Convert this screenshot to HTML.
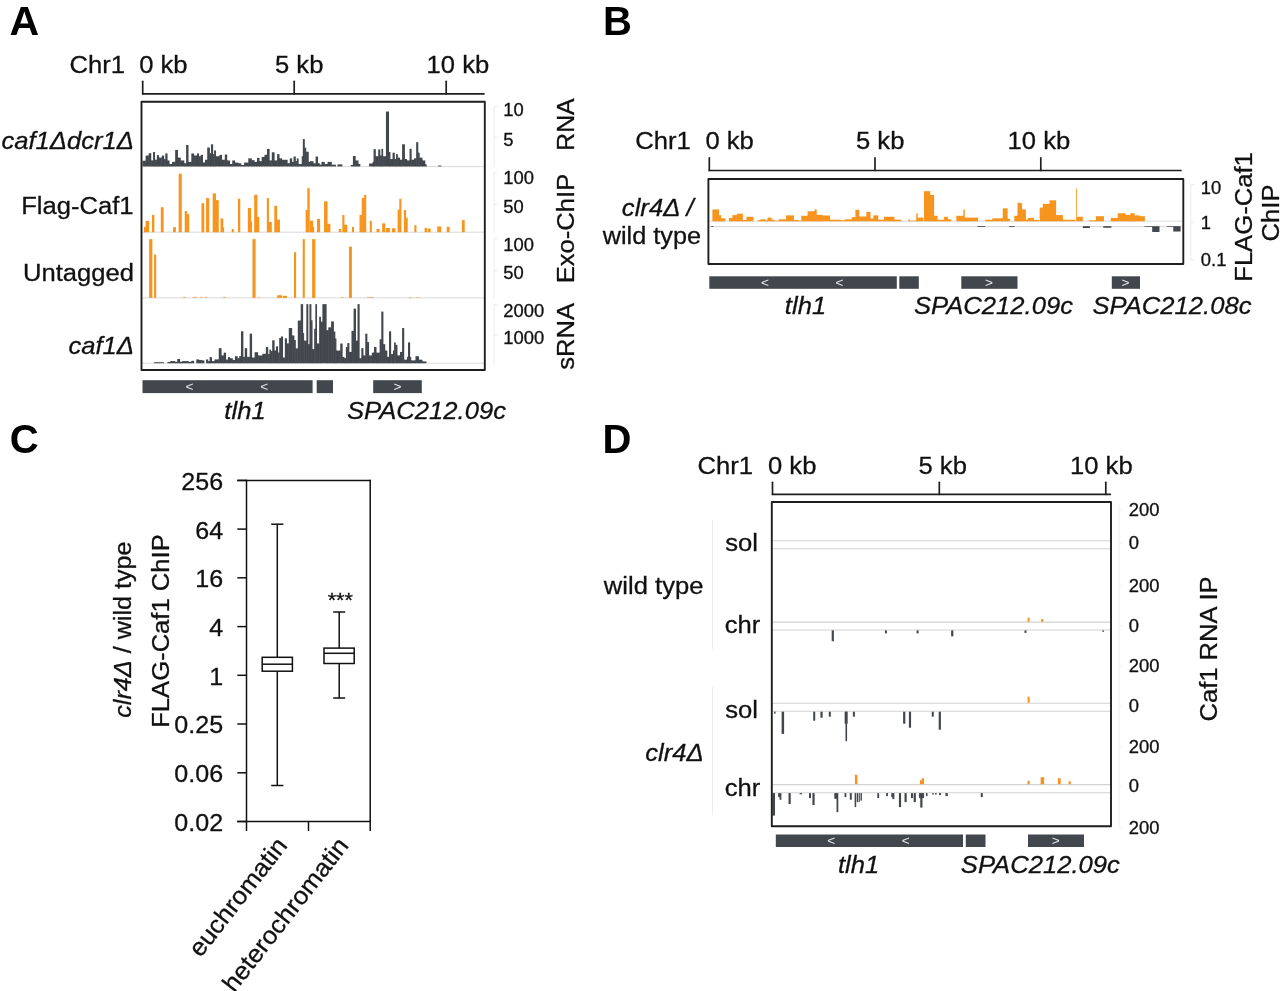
<!DOCTYPE html>
<html lang="en">
<head>
<meta charset="utf-8">
<title>Figure: Caf1 RNA, ChIP and sRNA tracks</title>
<style>
html,body{margin:0;padding:0;background:#fff;}
body{width:1280px;height:991px;overflow:hidden;font-family:'Liberation Sans', Arial, Helvetica, sans-serif;}
svg{display:block;}
svg text{font-family:'Liberation Sans', Arial, Helvetica, sans-serif;}
</style>
</head>
<body>
<svg width="1280" height="991" viewBox="0 0 1280 991">
<rect x="0" y="0" width="1280" height="991" fill="#ffffff"/>
<g id="panelA">
<text transform="translate(9.60 34.60) scale(1.015 1)" font-size="40.5" font-weight="bold" fill="#000">A</text>
<text transform="translate(69.50 73.20) scale(1.033 1)" font-size="24.8" stroke="#111" stroke-width="0.3" fill="#111">Chr1</text>
<text transform="translate(139.20 73.20) scale(1.033 1)" font-size="24.8" stroke="#111" stroke-width="0.3" fill="#111">0 kb</text>
<text transform="translate(275.00 73.20) scale(1.033 1)" font-size="24.8" stroke="#111" stroke-width="0.3" fill="#111">5 kb</text>
<text transform="translate(426.60 73.20) scale(1.033 1)" font-size="24.8" stroke="#111" stroke-width="0.3" fill="#111">10 kb</text>
<line x1="142.70" y1="93.80" x2="484.00" y2="93.80" stroke="#1f1f1f" stroke-width="1.7" stroke-linecap="round"/>
<line x1="142.70" y1="81.30" x2="142.70" y2="93.80" stroke="#1f1f1f" stroke-width="1.7" stroke-linecap="round"/>
<line x1="294.20" y1="81.30" x2="294.20" y2="93.80" stroke="#1f1f1f" stroke-width="1.7" stroke-linecap="round"/>
<line x1="446.20" y1="81.30" x2="446.20" y2="93.80" stroke="#1f1f1f" stroke-width="1.7" stroke-linecap="round"/>
<line x1="142.50" y1="166.60" x2="484.50" y2="166.60" stroke="#d9d9d9" stroke-width="1" stroke-linecap="butt"/>
<line x1="142.50" y1="232.20" x2="484.50" y2="232.20" stroke="#d9d9d9" stroke-width="1" stroke-linecap="butt"/>
<line x1="142.50" y1="297.90" x2="484.50" y2="297.90" stroke="#d9d9d9" stroke-width="1" stroke-linecap="butt"/>
<line x1="142.50" y1="363.20" x2="484.50" y2="363.20" stroke="#d9d9d9" stroke-width="1" stroke-linecap="butt"/>
<g fill="#42474d"><rect x="142.53" y="160.75" width="3.09" height="5.62"/><rect x="145.12" y="160.75" width="1" height="5.62"/><rect x="145.62" y="155.55" width="3.09" height="10.83"/><rect x="148.22" y="155.55" width="1" height="10.83"/><rect x="148.72" y="153.16" width="2.53" height="13.22"/><rect x="150.75" y="160.47" width="1" height="5.91"/><rect x="151.25" y="160.47" width="1.83" height="5.91"/><rect x="152.58" y="160.47" width="1" height="5.91"/><rect x="153.08" y="152.03" width="1.97" height="14.34"/><rect x="154.55" y="159.77" width="1" height="6.61"/><rect x="155.05" y="159.77" width="1.83" height="6.61"/><rect x="156.38" y="159.77" width="1" height="6.61"/><rect x="156.88" y="155.12" width="2.11" height="11.25"/><rect x="158.48" y="157.66" width="1" height="8.72"/><rect x="158.98" y="157.66" width="2.81" height="8.72"/><rect x="161.30" y="157.66" width="1" height="8.72"/><rect x="161.80" y="155.55" width="2.39" height="10.83"/><rect x="163.69" y="159.06" width="1" height="7.31"/><rect x="164.19" y="159.06" width="1.12" height="7.31"/><rect x="164.81" y="159.06" width="1" height="7.31"/><rect x="165.31" y="153.44" width="2.25" height="12.94"/><rect x="167.06" y="160.47" width="1" height="5.91"/><rect x="167.56" y="160.47" width="1.97" height="5.91"/><rect x="169.03" y="163.98" width="1" height="2.39"/><rect x="169.53" y="163.98" width="2.53" height="2.39"/><rect x="171.56" y="163.98" width="1" height="2.39"/><rect x="172.06" y="161.88" width="3.09" height="4.50"/><rect x="174.66" y="161.88" width="1" height="4.50"/><rect x="175.16" y="149.92" width="2.81" height="16.45"/><rect x="177.47" y="157.66" width="1" height="8.72"/><rect x="177.97" y="157.66" width="2.81" height="8.72"/><rect x="180.28" y="160.47" width="1" height="5.91"/><rect x="180.78" y="160.47" width="3.52" height="5.91"/><rect x="183.80" y="163.28" width="1" height="3.09"/><rect x="184.30" y="163.28" width="1.83" height="3.09"/><rect x="185.62" y="163.28" width="1" height="3.09"/><rect x="186.12" y="145.00" width="2.39" height="21.38"/><rect x="188.02" y="161.88" width="1" height="4.50"/><rect x="188.52" y="161.88" width="2.81" height="4.50"/><rect x="190.83" y="161.88" width="1" height="4.50"/><rect x="191.33" y="153.44" width="2.81" height="12.94"/><rect x="193.64" y="155.55" width="1" height="10.83"/><rect x="194.14" y="155.55" width="2.81" height="10.83"/><rect x="196.45" y="155.55" width="1" height="10.83"/><rect x="196.95" y="153.44" width="2.11" height="12.94"/><rect x="198.56" y="156.25" width="1" height="10.12"/><rect x="199.06" y="156.25" width="1.69" height="10.12"/><rect x="200.25" y="156.25" width="1" height="10.12"/><rect x="200.75" y="154.84" width="2.25" height="11.53"/><rect x="202.50" y="162.58" width="1" height="3.80"/><rect x="203.00" y="162.58" width="1.97" height="3.80"/><rect x="204.47" y="162.58" width="1" height="3.80"/><rect x="204.97" y="159.77" width="2.25" height="6.61"/><rect x="206.72" y="159.77" width="1" height="6.61"/><rect x="207.22" y="147.53" width="2.67" height="18.84"/><rect x="209.39" y="153.44" width="1" height="12.94"/><rect x="209.89" y="153.44" width="1.12" height="12.94"/><rect x="210.52" y="153.44" width="1" height="12.94"/><rect x="211.02" y="144.30" width="2.11" height="22.08"/><rect x="212.62" y="154.14" width="1" height="12.23"/><rect x="213.12" y="154.14" width="0.98" height="12.23"/><rect x="213.61" y="154.14" width="1" height="12.23"/><rect x="214.11" y="150.34" width="1.83" height="16.03"/><rect x="215.44" y="156.25" width="1" height="10.12"/><rect x="215.94" y="156.25" width="3.52" height="10.12"/><rect x="218.95" y="156.25" width="1" height="10.12"/><rect x="219.45" y="154.84" width="2.53" height="11.53"/><rect x="221.48" y="159.77" width="1" height="6.61"/><rect x="221.98" y="159.77" width="2.81" height="6.61"/><rect x="224.30" y="159.77" width="1" height="6.61"/><rect x="224.80" y="154.56" width="2.39" height="11.81"/><rect x="226.69" y="160.47" width="1" height="5.91"/><rect x="227.19" y="160.47" width="2.81" height="5.91"/><rect x="229.50" y="163.98" width="1" height="2.39"/><rect x="230.00" y="163.98" width="2.25" height="2.39"/><rect x="231.75" y="163.98" width="1" height="2.39"/><rect x="232.25" y="160.47" width="2.81" height="5.91"/><rect x="234.56" y="162.58" width="1" height="3.80"/><rect x="235.06" y="162.58" width="3.38" height="3.80"/><rect x="237.94" y="163.28" width="1" height="3.09"/><rect x="238.44" y="163.28" width="2.81" height="3.09"/><rect x="240.75" y="164.97" width="1" height="1.41"/><rect x="241.25" y="164.97" width="2.81" height="1.41"/><rect x="243.56" y="164.97" width="1" height="1.41"/><rect x="244.06" y="162.58" width="4.22" height="3.80"/><rect x="247.78" y="162.58" width="1" height="3.80"/><rect x="248.28" y="158.36" width="3.52" height="8.02"/><rect x="251.30" y="160.19" width="1" height="6.19"/><rect x="251.80" y="160.19" width="2.81" height="6.19"/><rect x="254.11" y="161.88" width="1" height="4.50"/><rect x="254.61" y="161.88" width="2.39" height="4.50"/><rect x="256.50" y="161.88" width="1" height="4.50"/><rect x="257.00" y="157.94" width="2.53" height="8.44"/><rect x="259.03" y="161.17" width="1" height="5.20"/><rect x="259.53" y="161.17" width="2.11" height="5.20"/><rect x="261.14" y="161.17" width="1" height="5.20"/><rect x="261.64" y="156.95" width="2.81" height="9.42"/><rect x="263.95" y="156.95" width="1" height="9.42"/><rect x="264.45" y="154.84" width="2.53" height="11.53"/><rect x="266.48" y="154.84" width="1" height="11.53"/><rect x="266.98" y="148.94" width="2.67" height="17.44"/><rect x="269.16" y="160.47" width="1" height="5.91"/><rect x="269.66" y="160.47" width="2.11" height="5.91"/><rect x="271.27" y="160.47" width="1" height="5.91"/><rect x="271.77" y="152.31" width="2.81" height="14.06"/><rect x="274.08" y="160.47" width="1" height="5.91"/><rect x="274.58" y="160.47" width="2.53" height="5.91"/><rect x="276.61" y="160.47" width="1" height="5.91"/><rect x="277.11" y="154.14" width="2.39" height="12.23"/><rect x="279.00" y="158.36" width="1" height="8.02"/><rect x="279.50" y="158.36" width="2.53" height="8.02"/><rect x="281.53" y="159.77" width="1" height="6.61"/><rect x="282.03" y="159.77" width="5.62" height="6.61"/><rect x="287.16" y="163.28" width="1" height="3.09"/><rect x="287.66" y="163.28" width="2.11" height="3.09"/><rect x="289.27" y="163.28" width="1" height="3.09"/><rect x="289.77" y="158.36" width="2.39" height="8.02"/><rect x="291.66" y="161.88" width="1" height="4.50"/><rect x="292.16" y="161.88" width="1.41" height="4.50"/><rect x="293.06" y="161.88" width="1" height="4.50"/><rect x="293.56" y="156.53" width="2.25" height="9.84"/><rect x="295.31" y="161.17" width="1" height="5.20"/><rect x="295.81" y="161.17" width="0.98" height="5.20"/><rect x="296.30" y="161.17" width="1" height="5.20"/><rect x="296.80" y="158.36" width="1.83" height="8.02"/><rect x="298.12" y="163.98" width="1" height="2.39"/><rect x="298.62" y="163.98" width="3.09" height="2.39"/><rect x="301.22" y="163.98" width="1" height="2.39"/><rect x="301.72" y="156.25" width="1.12" height="10.12"/><rect x="302.34" y="156.25" width="1" height="10.12"/><rect x="302.84" y="139.09" width="1.97" height="27.28"/><rect x="304.31" y="147.81" width="1" height="18.56"/><rect x="304.81" y="147.81" width="1.41" height="18.56"/><rect x="305.72" y="151.75" width="1" height="14.62"/><rect x="306.22" y="151.75" width="2.53" height="14.62"/><rect x="308.25" y="161.88" width="1" height="4.50"/><rect x="308.75" y="161.88" width="1.27" height="4.50"/></g>
<g fill="#42474d"><rect x="310.00" y="161.17" width="3.52" height="5.20"/><rect x="313.02" y="163.28" width="1" height="3.09"/><rect x="313.52" y="163.28" width="2.11" height="3.09"/><rect x="315.12" y="163.28" width="1" height="3.09"/><rect x="315.62" y="156.53" width="2.39" height="9.84"/><rect x="317.52" y="163.28" width="1" height="3.09"/><rect x="318.02" y="163.28" width="1.83" height="3.09"/><rect x="319.34" y="164.69" width="1" height="1.69"/><rect x="319.84" y="164.69" width="1.69" height="1.69"/><rect x="321.03" y="164.69" width="1" height="1.69"/><rect x="321.53" y="161.88" width="3.23" height="4.50"/><rect x="324.27" y="163.98" width="1" height="2.39"/><rect x="324.77" y="163.98" width="2.81" height="2.39"/><rect x="327.08" y="163.98" width="1" height="2.39"/><rect x="327.58" y="161.88" width="4.22" height="4.50"/><rect x="331.30" y="164.69" width="1" height="1.69"/><rect x="331.80" y="164.69" width="4.22" height="1.69"/><rect x="337.42" y="164.41" width="4.92" height="1.97"/><rect x="350.78" y="164.97" width="2.11" height="1.41"/><rect x="352.39" y="164.97" width="1" height="1.41"/><rect x="352.89" y="155.97" width="2.81" height="10.41"/><rect x="355.20" y="160.47" width="1" height="5.91"/><rect x="355.70" y="160.47" width="2.81" height="5.91"/><rect x="358.02" y="163.98" width="1" height="2.39"/><rect x="358.52" y="163.98" width="1.83" height="2.39"/><rect x="369.06" y="163.56" width="3.52" height="2.81"/><rect x="372.08" y="163.56" width="1" height="2.81"/><rect x="372.58" y="161.88" width="0.98" height="4.50"/><rect x="373.06" y="161.88" width="1" height="4.50"/><rect x="373.56" y="149.22" width="2.25" height="17.16"/><rect x="375.31" y="156.25" width="1" height="10.12"/><rect x="375.81" y="156.25" width="2.39" height="10.12"/><rect x="377.70" y="156.25" width="1" height="10.12"/><rect x="378.20" y="149.50" width="2.11" height="16.88"/><rect x="379.81" y="155.55" width="1" height="10.83"/><rect x="380.31" y="155.55" width="1.12" height="10.83"/><rect x="380.94" y="155.55" width="1" height="10.83"/><rect x="381.44" y="148.80" width="1.69" height="17.58"/><rect x="382.62" y="156.25" width="1" height="10.12"/><rect x="383.12" y="156.25" width="2.81" height="10.12"/><rect x="385.44" y="156.25" width="1" height="10.12"/><rect x="385.94" y="111.53" width="3.09" height="54.84"/><rect x="388.53" y="152.03" width="1" height="14.34"/><rect x="389.03" y="152.03" width="1.41" height="14.34"/><rect x="389.94" y="159.06" width="1" height="7.31"/><rect x="390.44" y="159.06" width="2.11" height="7.31"/><rect x="392.05" y="159.06" width="1" height="7.31"/><rect x="392.55" y="152.73" width="2.25" height="13.64"/><rect x="394.30" y="159.06" width="1" height="7.31"/><rect x="394.80" y="159.06" width="1.27" height="7.31"/><rect x="395.56" y="159.06" width="1" height="7.31"/><rect x="396.06" y="154.14" width="1.83" height="12.23"/><rect x="397.39" y="157.66" width="1" height="8.72"/><rect x="397.89" y="157.66" width="2.11" height="8.72"/><rect x="399.50" y="159.77" width="1" height="6.61"/><rect x="400.00" y="159.77" width="2.11" height="6.61"/><rect x="401.61" y="159.77" width="1" height="6.61"/><rect x="402.11" y="144.30" width="2.81" height="22.08"/><rect x="404.42" y="159.06" width="1" height="7.31"/><rect x="404.92" y="159.06" width="2.11" height="7.31"/><rect x="406.53" y="160.47" width="1" height="5.91"/><rect x="407.03" y="160.47" width="2.53" height="5.91"/><rect x="409.06" y="160.47" width="1" height="5.91"/><rect x="409.56" y="148.80" width="2.11" height="17.58"/><rect x="411.17" y="159.77" width="1" height="6.61"/><rect x="411.67" y="159.77" width="2.39" height="6.61"/><rect x="413.56" y="159.77" width="1" height="6.61"/><rect x="414.06" y="158.36" width="2.11" height="8.02"/><rect x="415.67" y="158.36" width="1" height="8.02"/><rect x="416.17" y="142.19" width="2.11" height="24.19"/><rect x="417.78" y="152.73" width="1" height="13.64"/><rect x="418.28" y="152.73" width="1.41" height="13.64"/><rect x="419.19" y="157.66" width="1" height="8.72"/><rect x="419.69" y="157.66" width="2.81" height="8.72"/><rect x="422.00" y="160.47" width="1" height="5.91"/><rect x="422.50" y="160.47" width="2.81" height="5.91"/><rect x="424.81" y="164.41" width="1" height="1.97"/><rect x="425.31" y="164.41" width="1.41" height="1.97"/><rect x="437.97" y="165.53" width="3.52" height="0.84"/></g>
<g fill="#f7941d"><rect x="143.94" y="226.88" width="1.69" height="5.34"/><rect x="145.12" y="226.88" width="1" height="5.34"/><rect x="145.62" y="220.97" width="3.52" height="11.25"/><rect x="151.95" y="214.92" width="2.39" height="17.30"/><rect x="160.81" y="207.19" width="2.81" height="25.03"/><rect x="173.05" y="227.16" width="2.81" height="5.06"/><rect x="178.67" y="173.72" width="3.09" height="58.50"/><rect x="184.72" y="211.12" width="2.39" height="21.09"/><rect x="186.61" y="214.22" width="1" height="18.00"/><rect x="187.11" y="214.22" width="2.11" height="18.00"/><rect x="201.45" y="203.25" width="2.81" height="28.97"/><rect x="206.09" y="198.05" width="3.09" height="34.17"/><rect x="212.70" y="193.41" width="3.23" height="38.81"/><rect x="215.44" y="200.16" width="1" height="32.06"/><rect x="215.94" y="200.16" width="2.81" height="32.06"/><rect x="220.58" y="218.44" width="2.67" height="13.78"/><rect x="222.75" y="227.58" width="1" height="4.64"/><rect x="223.25" y="227.58" width="0.84" height="4.64"/><rect x="231.69" y="228.98" width="2.11" height="3.23"/><rect x="238.02" y="198.75" width="2.25" height="33.47"/><rect x="247.86" y="207.89" width="3.23" height="24.33"/><rect x="250.59" y="221.25" width="1" height="10.97"/><rect x="251.09" y="221.25" width="0.98" height="10.97"/><rect x="254.19" y="194.81" width="3.23" height="37.41"/><rect x="256.92" y="217.03" width="1" height="15.19"/><rect x="257.42" y="217.03" width="1.83" height="15.19"/><rect x="266.84" y="198.05" width="2.11" height="34.17"/><rect x="268.45" y="221.95" width="1" height="10.27"/><rect x="268.95" y="221.95" width="2.81" height="10.27"/><rect x="274.30" y="205.78" width="2.81" height="26.44"/><rect x="276.61" y="219.56" width="1" height="12.66"/><rect x="277.11" y="219.56" width="2.81" height="12.66"/><rect x="305.66" y="210.00" width="1.69" height="22.22"/><rect x="306.84" y="210.00" width="1" height="22.22"/><rect x="307.34" y="188.20" width="2.39" height="44.02"/></g>
<g fill="#f7941d"><rect x="310.00" y="220.55" width="3.09" height="11.67"/><rect x="312.59" y="226.88" width="1" height="5.34"/><rect x="313.09" y="226.88" width="1.12" height="5.34"/><rect x="317.03" y="218.86" width="3.09" height="13.36"/><rect x="324.06" y="201.28" width="3.52" height="30.94"/><rect x="327.08" y="223.78" width="1" height="8.44"/><rect x="327.58" y="223.78" width="2.81" height="8.44"/><rect x="338.83" y="228.98" width="2.39" height="3.23"/><rect x="342.34" y="214.92" width="2.11" height="17.30"/><rect x="343.95" y="224.77" width="1" height="7.45"/><rect x="344.45" y="224.77" width="2.81" height="7.45"/><rect x="351.91" y="226.88" width="2.11" height="5.34"/><rect x="359.50" y="214.92" width="2.25" height="17.30"/><rect x="361.25" y="214.92" width="1" height="17.30"/><rect x="361.75" y="198.05" width="2.39" height="34.17"/><rect x="363.64" y="198.05" width="1" height="34.17"/><rect x="364.14" y="194.81" width="2.11" height="37.41"/><rect x="369.77" y="220.83" width="2.11" height="11.39"/><rect x="376.52" y="228.98" width="3.09" height="3.23"/><rect x="382.14" y="223.36" width="3.09" height="8.86"/><rect x="385.94" y="228.00" width="3.94" height="4.22"/><rect x="391.98" y="228.28" width="3.52" height="3.94"/><rect x="397.61" y="209.72" width="1.69" height="22.50"/><rect x="398.80" y="209.72" width="1" height="22.50"/><rect x="399.30" y="198.75" width="2.11" height="33.47"/><rect x="403.94" y="210.00" width="2.11" height="22.22"/><rect x="405.55" y="217.73" width="1" height="14.48"/><rect x="406.05" y="217.73" width="1.69" height="14.48"/><rect x="414.34" y="225.19" width="2.11" height="7.03"/><rect x="424.61" y="227.86" width="2.39" height="4.36"/><rect x="427.70" y="228.56" width="2.95" height="3.66"/><rect x="437.27" y="226.45" width="3.94" height="5.77"/><rect x="446.69" y="226.88" width="2.95" height="5.34"/><rect x="461.88" y="220.12" width="2.81" height="12.09"/></g>
<g fill="#e8b47c"><rect x="182.89" y="296.80" width="2.81" height="1.12"/><rect x="192.73" y="296.80" width="4.22" height="1.12"/><rect x="199.77" y="296.80" width="2.81" height="1.12"/><rect x="204.69" y="296.80" width="2.81" height="1.12"/><rect x="222.97" y="296.80" width="2.81" height="1.12"/><rect x="258.12" y="296.80" width="1.41" height="1.12"/></g>
<g fill="#e8b47c"><rect x="340.94" y="296.94" width="2.81" height="0.98"/><rect x="366.95" y="296.94" width="7.03" height="0.98"/><rect x="409.14" y="296.94" width="2.11" height="0.98"/><rect x="416.88" y="296.94" width="2.11" height="0.98"/></g>
<g fill="#f7941d"><rect x="149.14" y="239.14" width="3.23" height="58.78"/><rect x="154.06" y="254.61" width="2.11" height="43.31"/><rect x="252.50" y="239.14" width="3.09" height="58.78"/><rect x="293.98" y="252.22" width="2.11" height="45.70"/><rect x="302.70" y="239.14" width="2.11" height="58.78"/><rect x="277.11" y="295.25" width="4.92" height="2.67"/><rect x="282.73" y="295.81" width="4.22" height="2.11"/></g>
<g fill="#f7941d"><rect x="312.11" y="239.14" width="3.23" height="58.78"/><rect x="348.95" y="246.59" width="2.95" height="51.33"/></g>
<g fill="#42474d"><rect x="154.06" y="362.22" width="9.84" height="0.98"/><rect x="167.42" y="361.94" width="2.81" height="1.27"/><rect x="169.73" y="361.94" width="1" height="1.27"/><rect x="170.23" y="361.09" width="4.92" height="2.11"/><rect x="174.66" y="361.80" width="1" height="1.41"/><rect x="175.16" y="361.80" width="2.11" height="1.41"/><rect x="176.77" y="361.80" width="1" height="1.41"/><rect x="177.27" y="358.98" width="2.81" height="4.22"/><rect x="179.58" y="361.80" width="1" height="1.41"/><rect x="180.08" y="361.80" width="2.11" height="1.41"/><rect x="181.69" y="361.80" width="1" height="1.41"/><rect x="182.19" y="361.09" width="6.33" height="2.11"/><rect x="188.02" y="361.80" width="1" height="1.41"/><rect x="188.52" y="361.80" width="2.81" height="1.41"/><rect x="190.83" y="361.80" width="1" height="1.41"/><rect x="191.33" y="360.81" width="2.81" height="2.39"/><rect x="196.25" y="359.41" width="2.81" height="3.80"/><rect x="198.56" y="359.97" width="1" height="3.23"/><rect x="199.06" y="359.97" width="2.81" height="3.23"/><rect x="201.38" y="360.39" width="1" height="2.81"/><rect x="201.88" y="360.39" width="2.53" height="2.81"/><rect x="206.09" y="359.41" width="2.11" height="3.80"/><rect x="207.70" y="361.09" width="1" height="2.11"/><rect x="208.20" y="361.09" width="1.41" height="2.11"/><rect x="209.11" y="361.09" width="1" height="2.11"/><rect x="209.61" y="357.16" width="2.39" height="6.05"/><rect x="211.50" y="361.09" width="1" height="2.11"/><rect x="212.00" y="361.09" width="2.53" height="2.11"/><rect x="214.03" y="361.09" width="1" height="2.11"/><rect x="214.53" y="359.41" width="4.22" height="3.80"/><rect x="218.25" y="359.41" width="1" height="3.80"/><rect x="218.75" y="348.16" width="2.81" height="15.05"/><rect x="221.06" y="355.47" width="1" height="7.73"/><rect x="221.56" y="355.47" width="2.11" height="7.73"/><rect x="223.17" y="355.47" width="1" height="7.73"/><rect x="223.67" y="352.66" width="2.39" height="10.55"/><rect x="225.56" y="359.69" width="1" height="3.52"/><rect x="226.06" y="359.69" width="1.83" height="3.52"/><rect x="227.39" y="359.69" width="1" height="3.52"/><rect x="227.89" y="357.16" width="2.11" height="6.05"/><rect x="229.50" y="358.28" width="1" height="4.92"/><rect x="230.00" y="358.28" width="2.81" height="4.92"/><rect x="232.31" y="359.97" width="1" height="3.23"/><rect x="232.81" y="359.97" width="2.11" height="3.23"/><rect x="234.42" y="359.97" width="1" height="3.23"/><rect x="234.92" y="356.17" width="2.81" height="7.03"/><rect x="237.23" y="358.28" width="1" height="4.92"/><rect x="237.73" y="358.28" width="1.41" height="4.92"/><rect x="238.64" y="358.28" width="1" height="4.92"/><rect x="239.14" y="356.17" width="1.83" height="7.03"/><rect x="240.47" y="356.17" width="1" height="7.03"/><rect x="240.97" y="331.28" width="2.39" height="31.92"/><rect x="242.86" y="356.88" width="1" height="6.33"/><rect x="243.36" y="356.88" width="1.41" height="6.33"/><rect x="244.27" y="356.88" width="1" height="6.33"/><rect x="244.77" y="348.16" width="2.39" height="15.05"/><rect x="246.66" y="356.88" width="1" height="6.33"/><rect x="247.16" y="356.88" width="2.53" height="6.33"/><rect x="249.19" y="356.88" width="1" height="6.33"/><rect x="249.69" y="333.67" width="2.39" height="29.53"/><rect x="251.58" y="357.58" width="1" height="5.62"/><rect x="252.08" y="357.58" width="2.53" height="5.62"/><rect x="254.11" y="357.58" width="1" height="5.62"/><rect x="254.61" y="352.23" width="3.52" height="10.97"/><rect x="257.62" y="355.47" width="1" height="7.73"/><rect x="258.12" y="355.47" width="4.22" height="7.73"/><rect x="261.84" y="355.47" width="1" height="7.73"/><rect x="262.34" y="353.78" width="3.52" height="9.42"/><rect x="265.36" y="353.78" width="1" height="9.42"/><rect x="265.86" y="347.03" width="2.39" height="16.17"/><rect x="267.75" y="354.06" width="1" height="9.14"/><rect x="268.25" y="354.06" width="1.12" height="9.14"/><rect x="268.88" y="354.06" width="1" height="9.14"/><rect x="269.38" y="349.56" width="1.69" height="13.64"/><rect x="270.56" y="351.25" width="1" height="11.95"/><rect x="271.06" y="351.25" width="1.12" height="11.95"/><rect x="271.69" y="351.25" width="1" height="11.95"/><rect x="272.19" y="340.28" width="2.39" height="22.92"/><rect x="274.08" y="350.55" width="1" height="12.66"/><rect x="274.58" y="350.55" width="1.41" height="12.66"/><rect x="275.48" y="350.55" width="1" height="12.66"/><rect x="275.98" y="346.33" width="2.11" height="16.88"/><rect x="277.59" y="352.66" width="1" height="10.55"/><rect x="278.09" y="352.66" width="1.12" height="10.55"/><rect x="278.72" y="352.66" width="1" height="10.55"/><rect x="279.22" y="337.89" width="1.83" height="25.31"/><rect x="280.55" y="337.89" width="1" height="25.31"/><rect x="281.05" y="336.48" width="1.97" height="26.72"/><rect x="282.52" y="357.58" width="1" height="5.62"/><rect x="283.02" y="357.58" width="1.83" height="5.62"/><rect x="284.34" y="357.58" width="1" height="5.62"/><rect x="284.84" y="338.31" width="2.11" height="24.89"/><rect x="286.45" y="343.52" width="1" height="19.69"/><rect x="286.95" y="343.52" width="1.83" height="19.69"/><rect x="288.28" y="343.52" width="1" height="19.69"/><rect x="288.78" y="328.05" width="3.38" height="35.16"/><rect x="291.66" y="335.50" width="1" height="27.70"/><rect x="292.16" y="335.50" width="2.25" height="27.70"/><rect x="293.91" y="340.00" width="1" height="23.20"/><rect x="294.41" y="340.00" width="1.41" height="23.20"/><rect x="295.31" y="348.44" width="1" height="14.77"/><rect x="295.81" y="348.44" width="1.97" height="14.77"/><rect x="297.28" y="348.44" width="1" height="14.77"/><rect x="297.78" y="320.59" width="2.95" height="42.61"/><rect x="300.23" y="320.59" width="1" height="42.61"/><rect x="300.73" y="304.14" width="2.39" height="59.06"/><rect x="302.62" y="332.97" width="1" height="30.23"/><rect x="303.12" y="332.97" width="0.98" height="30.23"/><rect x="303.61" y="340.70" width="1" height="22.50"/><rect x="304.11" y="340.70" width="2.25" height="22.50"/><rect x="305.86" y="340.70" width="1" height="22.50"/><rect x="306.36" y="304.14" width="1.97" height="59.06"/><rect x="307.83" y="344.22" width="1" height="18.98"/><rect x="308.33" y="344.22" width="1.12" height="18.98"/><rect x="308.95" y="344.22" width="1" height="18.98"/><rect x="309.45" y="304.14" width="0.56" height="59.06"/></g>
<g fill="#42474d"><rect x="310.00" y="304.14" width="1.41" height="59.06"/><rect x="310.91" y="320.31" width="1" height="42.89"/><rect x="311.41" y="320.31" width="1.12" height="42.89"/><rect x="312.03" y="349.14" width="1" height="14.06"/><rect x="312.53" y="349.14" width="1.69" height="14.06"/><rect x="313.72" y="349.14" width="1" height="14.06"/><rect x="314.22" y="328.75" width="1.12" height="34.45"/><rect x="314.84" y="328.75" width="1" height="34.45"/><rect x="315.34" y="304.14" width="1.69" height="59.06"/><rect x="316.53" y="343.52" width="1" height="19.69"/><rect x="317.03" y="343.52" width="2.11" height="19.69"/><rect x="318.64" y="343.52" width="1" height="19.69"/><rect x="319.14" y="316.80" width="1.83" height="46.41"/><rect x="320.47" y="321.72" width="1" height="41.48"/><rect x="320.97" y="321.72" width="1.41" height="41.48"/><rect x="321.88" y="321.72" width="1" height="41.48"/><rect x="322.38" y="304.14" width="4.22" height="59.06"/><rect x="326.09" y="330.16" width="1" height="33.05"/><rect x="326.59" y="330.16" width="1.69" height="33.05"/><rect x="327.78" y="330.16" width="1" height="33.05"/><rect x="328.28" y="327.34" width="2.81" height="35.86"/><rect x="330.59" y="327.34" width="1" height="35.86"/><rect x="331.09" y="321.44" width="2.81" height="41.77"/><rect x="333.41" y="331.56" width="1" height="31.64"/><rect x="333.91" y="331.56" width="1.41" height="31.64"/><rect x="334.81" y="338.59" width="1" height="24.61"/><rect x="335.31" y="338.59" width="1.12" height="24.61"/><rect x="335.94" y="350.55" width="1" height="12.66"/><rect x="336.44" y="350.55" width="3.80" height="12.66"/><rect x="339.73" y="350.55" width="1" height="12.66"/><rect x="340.23" y="343.52" width="2.39" height="19.69"/><rect x="342.12" y="356.88" width="1" height="6.33"/><rect x="342.62" y="356.88" width="1.83" height="6.33"/><rect x="343.95" y="358.28" width="1" height="4.92"/><rect x="344.45" y="358.28" width="1.41" height="4.92"/><rect x="345.36" y="358.28" width="1" height="4.92"/><rect x="345.86" y="347.03" width="1.41" height="16.17"/><rect x="346.77" y="347.03" width="1" height="16.17"/><rect x="347.27" y="343.09" width="2.11" height="20.11"/><rect x="348.88" y="351.95" width="1" height="11.25"/><rect x="349.38" y="351.95" width="2.11" height="11.25"/><rect x="350.98" y="351.95" width="1" height="11.25"/><rect x="351.48" y="330.86" width="2.11" height="32.34"/><rect x="353.09" y="330.86" width="1" height="32.34"/><rect x="353.59" y="308.64" width="2.39" height="54.56"/><rect x="355.48" y="340.70" width="1" height="22.50"/><rect x="355.98" y="340.70" width="1.55" height="22.50"/><rect x="357.03" y="340.70" width="1" height="22.50"/><rect x="357.53" y="304.14" width="2.11" height="59.06"/><rect x="359.14" y="358.28" width="1" height="4.92"/><rect x="359.64" y="358.28" width="1.69" height="4.92"/><rect x="360.83" y="358.28" width="1" height="4.92"/><rect x="361.33" y="348.16" width="2.11" height="15.05"/><rect x="362.94" y="355.47" width="1" height="7.73"/><rect x="363.44" y="355.47" width="1.83" height="7.73"/><rect x="364.77" y="355.47" width="1" height="7.73"/><rect x="365.27" y="333.67" width="2.11" height="29.53"/><rect x="366.88" y="342.11" width="1" height="21.09"/><rect x="367.38" y="342.11" width="1.69" height="21.09"/><rect x="368.56" y="355.47" width="1" height="7.73"/><rect x="369.06" y="355.47" width="2.81" height="7.73"/><rect x="371.38" y="355.47" width="1" height="7.73"/><rect x="371.88" y="352.66" width="2.11" height="10.55"/><rect x="373.48" y="352.66" width="1" height="10.55"/><rect x="373.98" y="347.03" width="2.53" height="16.17"/><rect x="376.02" y="352.66" width="1" height="10.55"/><rect x="376.52" y="352.66" width="3.09" height="10.55"/><rect x="379.11" y="352.66" width="1" height="10.55"/><rect x="379.61" y="339.30" width="1.69" height="23.91"/><rect x="380.80" y="339.30" width="1" height="23.91"/><rect x="381.30" y="311.59" width="2.11" height="51.61"/><rect x="382.91" y="344.22" width="1" height="18.98"/><rect x="383.41" y="344.22" width="1.83" height="18.98"/><rect x="384.73" y="350.55" width="1" height="12.66"/><rect x="385.23" y="350.55" width="2.11" height="12.66"/><rect x="386.84" y="356.88" width="1" height="6.33"/><rect x="387.34" y="356.88" width="1.69" height="6.33"/><rect x="388.53" y="356.88" width="1" height="6.33"/><rect x="389.03" y="331.28" width="2.11" height="31.92"/><rect x="390.64" y="354.06" width="1" height="9.14"/><rect x="391.14" y="354.06" width="1.83" height="9.14"/><rect x="392.47" y="354.06" width="1" height="9.14"/><rect x="392.97" y="350.55" width="1.12" height="12.66"/><rect x="393.59" y="350.55" width="1" height="12.66"/><rect x="394.09" y="342.39" width="1.69" height="20.81"/><rect x="395.28" y="344.92" width="1" height="18.28"/><rect x="395.78" y="344.92" width="1.69" height="18.28"/><rect x="396.97" y="355.47" width="1" height="7.73"/><rect x="397.47" y="355.47" width="2.53" height="7.73"/><rect x="399.50" y="355.47" width="1" height="7.73"/><rect x="400.00" y="351.95" width="2.11" height="11.25"/><rect x="401.61" y="351.95" width="1" height="11.25"/><rect x="402.11" y="328.05" width="2.11" height="35.16"/><rect x="403.72" y="359.69" width="1" height="3.52"/><rect x="404.22" y="359.69" width="2.81" height="3.52"/><rect x="406.53" y="359.69" width="1" height="3.52"/><rect x="407.03" y="356.88" width="0.98" height="6.33"/><rect x="407.52" y="356.88" width="1" height="6.33"/><rect x="408.02" y="342.39" width="2.11" height="20.81"/><rect x="409.62" y="356.88" width="1" height="6.33"/><rect x="410.12" y="356.88" width="1.12" height="6.33"/><rect x="410.75" y="360.39" width="1" height="2.81"/><rect x="411.25" y="360.39" width="4.22" height="2.81"/><rect x="414.97" y="360.39" width="1" height="2.81"/><rect x="415.47" y="356.17" width="3.52" height="7.03"/><rect x="418.48" y="359.69" width="1" height="3.52"/><rect x="418.98" y="359.69" width="3.52" height="3.52"/><rect x="422.00" y="361.38" width="1" height="1.83"/><rect x="422.50" y="361.38" width="3.94" height="1.83"/></g>
<rect x="141.50" y="101.70" width="343.30" height="268.30" fill="none" stroke="#1f1f1f" stroke-width="1.9" stroke-linejoin="round"/>
<text transform="translate(134.00 148.80) scale(1.033 1)" font-size="24.8" font-style="italic" text-anchor="end" stroke="#111" stroke-width="0.3" fill="#111">caf1&#916;dcr1&#916;</text>
<text transform="translate(133.60 213.80) scale(1.033 1)" font-size="24.8" text-anchor="end" stroke="#111" stroke-width="0.3" fill="#111">Flag-Caf1</text>
<text transform="translate(134.00 281.20) scale(1.033 1)" font-size="24.8" text-anchor="end" stroke="#111" stroke-width="0.3" fill="#111">Untagged</text>
<text transform="translate(134.00 353.80) scale(1.033 1)" font-size="24.8" font-style="italic" text-anchor="end" stroke="#111" stroke-width="0.3" fill="#111">caf1&#916;</text>
<line x1="494.00" y1="106.60" x2="494.00" y2="167.00" stroke="#ebebeb" stroke-width="1" stroke-linecap="butt"/>
<line x1="494.00" y1="106.60" x2="497.60" y2="106.60" stroke="#ebebeb" stroke-width="1" stroke-linecap="butt"/>
<line x1="494.00" y1="137.40" x2="497.60" y2="137.40" stroke="#ebebeb" stroke-width="1" stroke-linecap="butt"/>
<line x1="494.00" y1="172.70" x2="494.00" y2="233.00" stroke="#ebebeb" stroke-width="1" stroke-linecap="butt"/>
<line x1="494.00" y1="172.70" x2="497.60" y2="172.70" stroke="#ebebeb" stroke-width="1" stroke-linecap="butt"/>
<line x1="494.00" y1="204.50" x2="497.60" y2="204.50" stroke="#ebebeb" stroke-width="1" stroke-linecap="butt"/>
<line x1="494.00" y1="238.60" x2="494.00" y2="298.50" stroke="#ebebeb" stroke-width="1" stroke-linecap="butt"/>
<line x1="494.00" y1="238.60" x2="497.60" y2="238.60" stroke="#ebebeb" stroke-width="1" stroke-linecap="butt"/>
<line x1="494.00" y1="270.60" x2="497.60" y2="270.60" stroke="#ebebeb" stroke-width="1" stroke-linecap="butt"/>
<line x1="494.00" y1="304.60" x2="494.00" y2="364.50" stroke="#ebebeb" stroke-width="1" stroke-linecap="butt"/>
<line x1="494.00" y1="304.60" x2="497.60" y2="304.60" stroke="#ebebeb" stroke-width="1" stroke-linecap="butt"/>
<line x1="494.00" y1="335.80" x2="497.60" y2="335.80" stroke="#ebebeb" stroke-width="1" stroke-linecap="butt"/>
<text transform="translate(503.30 116.30) scale(1.04 1)" font-size="17.7" stroke="#111" stroke-width="0.3" fill="#111">10</text>
<text transform="translate(503.30 145.60) scale(1.04 1)" font-size="17.7" stroke="#111" stroke-width="0.3" fill="#111">5</text>
<text transform="translate(503.30 183.80) scale(1.04 1)" font-size="17.7" stroke="#111" stroke-width="0.3" fill="#111">100</text>
<text transform="translate(503.30 213.00) scale(1.04 1)" font-size="17.7" stroke="#111" stroke-width="0.3" fill="#111">50</text>
<text transform="translate(503.30 250.80) scale(1.04 1)" font-size="17.7" stroke="#111" stroke-width="0.3" fill="#111">100</text>
<text transform="translate(503.30 278.80) scale(1.04 1)" font-size="17.7" stroke="#111" stroke-width="0.3" fill="#111">50</text>
<text transform="translate(503.30 316.80) scale(1.04 1)" font-size="17.7" stroke="#111" stroke-width="0.3" fill="#111">2000</text>
<text transform="translate(503.30 343.80) scale(1.04 1)" font-size="17.7" stroke="#111" stroke-width="0.3" fill="#111">1000</text>
<text transform="translate(573.60 124.60) rotate(-90)" font-size="24.8" text-anchor="middle" stroke="#111" stroke-width="0.3" fill="#111">RNA</text>
<text transform="translate(573.60 228.50) rotate(-90) scale(1.033 1)" font-size="24.8" text-anchor="middle" stroke="#111" stroke-width="0.3" fill="#111">Exo-ChIP</text>
<text transform="translate(573.60 336.40) rotate(-90) scale(1.033 1)" font-size="24.8" text-anchor="middle" stroke="#111" stroke-width="0.3" fill="#111">sRNA</text>
<rect x="142.50" y="380.20" width="170.10" height="12.90" fill="#42474d"/>
<text transform="translate(189.50 391.40) scale(1.05 1)" font-size="13" text-anchor="middle" fill="#e4e7ea">&lt;</text>
<text transform="translate(264.30 391.40) scale(1.05 1)" font-size="13" text-anchor="middle" fill="#e4e7ea">&lt;</text>
<rect x="316.70" y="380.20" width="16.30" height="12.90" fill="#42474d"/>
<rect x="373.20" y="380.20" width="48.60" height="12.90" fill="#42474d"/>
<text transform="translate(397.50 391.40) scale(1.05 1)" font-size="13" text-anchor="middle" fill="#e4e7ea">&gt;</text>
<text transform="translate(245.00 418.80) scale(1.033 1)" font-size="24.8" font-style="italic" text-anchor="middle" stroke="#111" stroke-width="0.3" fill="#111">tlh1</text>
<text transform="translate(426.50 418.80) scale(1.033 1)" font-size="24.8" font-style="italic" text-anchor="middle" stroke="#111" stroke-width="0.3" fill="#111">SPAC212.09c</text>
</g>
<g id="panelB">
<text transform="translate(603.00 34.60) scale(0.99 1)" font-size="40.5" font-weight="bold" fill="#000">B</text>
<text transform="translate(635.20 148.80) scale(1.033 1)" font-size="24.8" stroke="#111" stroke-width="0.3" fill="#111">Chr1</text>
<text transform="translate(705.40 148.80) scale(1.033 1)" font-size="24.8" stroke="#111" stroke-width="0.3" fill="#111">0 kb</text>
<text transform="translate(856.00 148.80) scale(1.033 1)" font-size="24.8" stroke="#111" stroke-width="0.3" fill="#111">5 kb</text>
<text transform="translate(1007.60 148.80) scale(1.033 1)" font-size="24.8" stroke="#111" stroke-width="0.3" fill="#111">10 kb</text>
<line x1="709.30" y1="170.50" x2="1181.00" y2="170.50" stroke="#1f1f1f" stroke-width="1.7" stroke-linecap="round"/>
<line x1="709.30" y1="157.80" x2="709.30" y2="170.50" stroke="#1f1f1f" stroke-width="1.7" stroke-linecap="round"/>
<line x1="875.00" y1="157.80" x2="875.00" y2="170.50" stroke="#1f1f1f" stroke-width="1.7" stroke-linecap="round"/>
<line x1="1040.80" y1="157.80" x2="1040.80" y2="170.50" stroke="#1f1f1f" stroke-width="1.7" stroke-linecap="round"/>
<line x1="709.00" y1="221.20" x2="1183.00" y2="221.20" stroke="#dcdcdc" stroke-width="1" stroke-linecap="butt"/>
<line x1="709.00" y1="226.60" x2="1183.00" y2="226.60" stroke="#d6d6d6" stroke-width="1" stroke-linecap="butt"/>
<g fill="#f7941d"><rect x="712.38" y="209.45" width="6.61" height="11.81"/><rect x="718.48" y="215.08" width="1" height="6.19"/><rect x="718.98" y="215.08" width="2.11" height="6.19"/><rect x="720.59" y="218.31" width="1" height="2.95"/><rect x="721.09" y="218.31" width="4.22" height="2.95"/><rect x="728.83" y="217.89" width="3.52" height="3.38"/><rect x="731.84" y="217.89" width="1" height="3.38"/><rect x="732.34" y="215.08" width="4.50" height="6.19"/><rect x="736.34" y="215.08" width="1" height="6.19"/><rect x="736.84" y="213.67" width="6.05" height="7.59"/><rect x="742.39" y="220.00" width="1" height="1.27"/><rect x="742.89" y="220.00" width="3.52" height="1.27"/><rect x="745.91" y="220.00" width="1" height="1.27"/><rect x="746.41" y="216.77" width="7.03" height="4.50"/><rect x="757.66" y="220.28" width="2.81" height="0.98"/><rect x="759.97" y="220.28" width="1" height="0.98"/><rect x="760.47" y="219.30" width="4.92" height="1.97"/><rect x="764.89" y="220.28" width="1" height="0.98"/><rect x="765.39" y="220.28" width="2.11" height="0.98"/><rect x="767.00" y="220.28" width="1" height="0.98"/><rect x="767.50" y="217.61" width="4.22" height="3.66"/><rect x="771.22" y="219.72" width="1" height="1.55"/><rect x="771.72" y="219.72" width="2.81" height="1.55"/><rect x="774.03" y="220.70" width="1" height="0.56"/><rect x="774.53" y="220.70" width="4.22" height="0.56"/><rect x="778.25" y="220.70" width="1" height="0.56"/><rect x="778.75" y="219.30" width="7.31" height="1.97"/><rect x="785.56" y="219.30" width="1" height="1.97"/><rect x="786.06" y="215.36" width="7.88" height="5.91"/><rect x="793.44" y="220.00" width="1" height="1.27"/><rect x="793.94" y="220.00" width="4.50" height="1.27"/><rect x="797.94" y="220.70" width="1" height="0.56"/><rect x="798.44" y="220.70" width="2.81" height="0.56"/><rect x="800.75" y="220.70" width="1" height="0.56"/><rect x="801.25" y="215.78" width="6.33" height="5.48"/><rect x="807.08" y="215.78" width="1" height="5.48"/><rect x="807.58" y="211.28" width="7.03" height="9.98"/><rect x="814.11" y="211.28" width="1" height="9.98"/><rect x="814.61" y="209.45" width="2.11" height="11.81"/><rect x="816.22" y="214.80" width="1" height="6.47"/><rect x="816.72" y="214.80" width="5.62" height="6.47"/><rect x="821.84" y="215.50" width="1" height="5.77"/><rect x="822.34" y="215.50" width="7.73" height="5.77"/><rect x="829.58" y="219.72" width="1" height="1.55"/><rect x="830.08" y="219.72" width="10.55" height="1.55"/><rect x="840.12" y="220.28" width="1" height="0.98"/><rect x="840.62" y="220.28" width="4.22" height="0.98"/><rect x="844.34" y="220.28" width="1" height="0.98"/><rect x="844.84" y="219.30" width="7.03" height="1.97"/><rect x="851.38" y="219.30" width="1" height="1.97"/><rect x="851.88" y="217.19" width="3.52" height="4.08"/><rect x="854.89" y="217.19" width="1" height="4.08"/><rect x="855.39" y="209.73" width="3.80" height="11.53"/><rect x="858.69" y="216.48" width="1" height="4.78"/><rect x="859.19" y="216.48" width="0.84" height="4.78"/></g>
<g fill="#f7941d"><rect x="860.00" y="216.48" width="6.33" height="4.78"/><rect x="865.83" y="216.48" width="1" height="4.78"/><rect x="866.33" y="211.84" width="4.22" height="9.42"/><rect x="870.05" y="218.59" width="1" height="2.67"/><rect x="870.55" y="218.59" width="2.81" height="2.67"/><rect x="872.86" y="218.59" width="1" height="2.67"/><rect x="873.36" y="215.36" width="4.92" height="5.91"/><rect x="877.78" y="219.72" width="1" height="1.55"/><rect x="878.28" y="219.72" width="5.62" height="1.55"/><rect x="883.41" y="219.72" width="1" height="1.55"/><rect x="883.91" y="216.77" width="10.55" height="4.50"/><rect x="893.95" y="219.72" width="1" height="1.55"/><rect x="894.45" y="219.72" width="7.03" height="1.55"/><rect x="908.52" y="219.30" width="1.41" height="1.97"/><rect x="909.42" y="220.70" width="1" height="0.56"/><rect x="909.92" y="220.70" width="6.33" height="0.56"/><rect x="915.75" y="220.70" width="1" height="0.56"/><rect x="916.25" y="213.25" width="1.41" height="8.02"/><rect x="917.16" y="217.61" width="1" height="3.66"/><rect x="917.66" y="217.61" width="5.62" height="3.66"/><rect x="923.98" y="191.17" width="6.33" height="30.09"/><rect x="929.81" y="194.97" width="1" height="26.30"/><rect x="930.31" y="194.97" width="3.80" height="26.30"/><rect x="933.61" y="215.78" width="1" height="5.48"/><rect x="934.11" y="215.78" width="3.52" height="5.48"/><rect x="937.12" y="219.72" width="1" height="1.55"/><rect x="937.62" y="219.72" width="6.47" height="1.55"/><rect x="943.59" y="219.72" width="1" height="1.55"/><rect x="944.09" y="216.77" width="3.80" height="4.50"/><rect x="947.39" y="219.30" width="1" height="1.97"/><rect x="947.89" y="219.30" width="3.52" height="1.97"/><rect x="956.33" y="215.78" width="7.03" height="5.48"/><rect x="962.86" y="215.78" width="1" height="5.48"/><rect x="963.36" y="209.45" width="1.41" height="11.81"/><rect x="964.27" y="217.61" width="1" height="3.66"/><rect x="964.77" y="217.61" width="13.36" height="3.66"/><rect x="985.16" y="219.72" width="7.03" height="1.55"/><rect x="991.69" y="219.72" width="1" height="1.55"/><rect x="992.19" y="218.31" width="10.55" height="2.95"/><rect x="1002.23" y="218.31" width="1" height="2.95"/><rect x="1002.73" y="208.33" width="4.92" height="12.94"/><rect x="1007.16" y="218.88" width="1" height="2.39"/><rect x="1007.66" y="218.88" width="2.39" height="2.39"/><rect x="1014.27" y="215.78" width="3.23" height="5.48"/><rect x="1017.00" y="215.78" width="1" height="5.48"/><rect x="1017.50" y="202.70" width="2.53" height="18.56"/></g>
<g fill="#f7941d"><rect x="1020.00" y="203.12" width="2.11" height="18.14"/><rect x="1021.61" y="209.45" width="1" height="11.81"/><rect x="1022.11" y="209.45" width="3.80" height="11.81"/><rect x="1025.41" y="219.72" width="1" height="1.55"/><rect x="1025.91" y="219.72" width="1.83" height="1.55"/><rect x="1027.23" y="219.72" width="1" height="1.55"/><rect x="1027.73" y="217.89" width="6.33" height="3.38"/><rect x="1033.56" y="220.00" width="1" height="1.27"/><rect x="1034.06" y="220.00" width="4.92" height="1.27"/><rect x="1039.69" y="207.62" width="3.09" height="13.64"/><rect x="1042.28" y="207.62" width="1" height="13.64"/><rect x="1042.78" y="203.83" width="6.75" height="17.44"/><rect x="1049.03" y="203.83" width="1" height="17.44"/><rect x="1049.53" y="200.31" width="6.61" height="20.95"/><rect x="1055.64" y="215.08" width="1" height="6.19"/><rect x="1056.14" y="215.08" width="6.75" height="6.19"/><rect x="1062.39" y="219.72" width="1" height="1.55"/><rect x="1062.89" y="219.72" width="12.66" height="1.55"/><rect x="1075.97" y="188.64" width="0.84" height="32.62"/><rect x="1076.95" y="216.77" width="5.91" height="4.50"/><rect x="1088.91" y="220.28" width="7.03" height="0.98"/><rect x="1095.44" y="220.28" width="1" height="0.98"/><rect x="1095.94" y="216.20" width="8.02" height="5.06"/><rect x="1110.70" y="217.89" width="7.03" height="3.38"/><rect x="1117.23" y="217.89" width="1" height="3.38"/><rect x="1117.73" y="213.25" width="7.73" height="8.02"/><rect x="1124.97" y="214.80" width="1" height="6.47"/><rect x="1125.47" y="214.80" width="4.92" height="6.47"/><rect x="1129.89" y="214.80" width="1" height="6.47"/><rect x="1130.39" y="213.25" width="4.22" height="8.02"/><rect x="1134.11" y="215.36" width="1" height="5.91"/><rect x="1134.61" y="215.36" width="4.92" height="5.91"/><rect x="1139.03" y="216.20" width="1" height="5.06"/><rect x="1139.53" y="216.20" width="5.34" height="5.06"/></g>
<g fill="#42474d"><rect x="711.25" y="226.19" width="2.11" height="0.84"/></g>
<g fill="#42474d"><rect x="977.42" y="226.19" width="7.73" height="0.84"/><rect x="1009.06" y="226.19" width="5.62" height="0.84"/></g>
<g fill="#42474d"><rect x="1082.86" y="226.19" width="7.03" height="1.83"/><rect x="1103.25" y="226.19" width="8.16" height="1.55"/><rect x="1144.45" y="226.19" width="7.73" height="0.70"/><rect x="1151.69" y="226.19" width="1" height="0.70"/><rect x="1152.19" y="226.19" width="7.31" height="5.77"/><rect x="1166.95" y="226.19" width="6.33" height="0.70"/><rect x="1172.78" y="226.19" width="1" height="0.70"/><rect x="1173.28" y="226.19" width="7.31" height="5.34"/></g>
<rect x="708.40" y="179.00" width="474.90" height="85.00" fill="none" stroke="#1f1f1f" stroke-width="1.9" stroke-linejoin="round"/>
<text transform="translate(693.60 215.60) scale(1.033 1)" font-size="24.8" font-style="italic" text-anchor="end" stroke="#111" stroke-width="0.3" fill="#111">clr4&#916; /</text>
<text transform="translate(701.00 244.10) scale(1.02 1)" font-size="24.8" text-anchor="end" stroke="#111" stroke-width="0.3" fill="#111">wild type</text>
<line x1="1190.80" y1="184.50" x2="1190.80" y2="260.00" stroke="#ebebeb" stroke-width="1" stroke-linecap="butt"/>
<line x1="1190.80" y1="184.50" x2="1194.50" y2="184.50" stroke="#ebebeb" stroke-width="1" stroke-linecap="butt"/>
<line x1="1190.80" y1="222.50" x2="1194.50" y2="222.50" stroke="#ebebeb" stroke-width="1" stroke-linecap="butt"/>
<line x1="1190.80" y1="260.00" x2="1194.50" y2="260.00" stroke="#ebebeb" stroke-width="1" stroke-linecap="butt"/>
<text transform="translate(1200.80 193.80) scale(1.04 1)" font-size="17.7" stroke="#111" stroke-width="0.3" fill="#111">10</text>
<text transform="translate(1200.80 229.30) scale(1.04 1)" font-size="17.7" stroke="#111" stroke-width="0.3" fill="#111">1</text>
<text transform="translate(1200.80 266.30) scale(1.04 1)" font-size="17.7" stroke="#111" stroke-width="0.3" fill="#111">0.1</text>
<text transform="translate(1251.80 217.00) rotate(-90) scale(1.033 1)" font-size="24.8" text-anchor="middle" stroke="#111" stroke-width="0.3" fill="#111">FLAG-Caf1</text>
<text transform="translate(1279.30 213.00) rotate(-90) scale(1.033 1)" font-size="24.8" text-anchor="middle" stroke="#111" stroke-width="0.3" fill="#111">ChIP</text>
<rect x="709.30" y="276.30" width="187.50" height="12.50" fill="#42474d"/>
<text transform="translate(765.00 287.10) scale(1.05 1)" font-size="13" text-anchor="middle" fill="#e4e7ea">&lt;</text>
<text transform="translate(839.50 287.10) scale(1.05 1)" font-size="13" text-anchor="middle" fill="#e4e7ea">&lt;</text>
<rect x="899.30" y="276.30" width="19.50" height="12.50" fill="#42474d"/>
<rect x="961.30" y="276.30" width="56.20" height="12.50" fill="#42474d"/>
<text transform="translate(989.00 287.10) scale(1.05 1)" font-size="13" text-anchor="middle" fill="#e4e7ea">&gt;</text>
<rect x="1111.80" y="276.30" width="28.20" height="12.50" fill="#42474d"/>
<text transform="translate(1125.50 287.10) scale(1.05 1)" font-size="13" text-anchor="middle" fill="#e4e7ea">&gt;</text>
<text transform="translate(805.50 313.80) scale(1.033 1)" font-size="24.8" font-style="italic" text-anchor="middle" stroke="#111" stroke-width="0.3" fill="#111">tlh1</text>
<text transform="translate(993.50 313.80) scale(1.033 1)" font-size="24.8" font-style="italic" text-anchor="middle" stroke="#111" stroke-width="0.3" fill="#111">SPAC212.09c</text>
<text transform="translate(1172.00 313.80) scale(1.033 1)" font-size="24.8" font-style="italic" text-anchor="middle" stroke="#111" stroke-width="0.3" fill="#111">SPAC212.08c</text>
</g>
<g id="panelC">
<text transform="translate(9.80 452.90) scale(0.99 1)" font-size="40.5" font-weight="bold" fill="#000">C</text>
<line x1="237.30" y1="480.40" x2="370.80" y2="480.40" stroke="#111" stroke-width="1.5" stroke-linecap="butt"/>
<line x1="246.50" y1="479.80" x2="246.50" y2="831.00" stroke="#111" stroke-width="1.5" stroke-linecap="butt"/>
<line x1="370.20" y1="479.80" x2="370.20" y2="831.00" stroke="#111" stroke-width="1.5" stroke-linecap="butt"/>
<line x1="237.30" y1="821.50" x2="370.80" y2="821.50" stroke="#111" stroke-width="1.5" stroke-linecap="butt"/>
<line x1="308.50" y1="821.50" x2="308.50" y2="831.00" stroke="#111" stroke-width="1.5" stroke-linecap="butt"/>
<line x1="237.30" y1="480.40" x2="246.50" y2="480.40" stroke="#111" stroke-width="1.5" stroke-linecap="butt"/>
<text transform="translate(223.20 489.80) scale(1.012 1)" font-size="24.8" text-anchor="end" stroke="#111" stroke-width="0.3" fill="#111">256</text>
<line x1="237.30" y1="529.10" x2="246.50" y2="529.10" stroke="#111" stroke-width="1.5" stroke-linecap="butt"/>
<text transform="translate(223.20 538.50) scale(1.012 1)" font-size="24.8" text-anchor="end" stroke="#111" stroke-width="0.3" fill="#111">64</text>
<line x1="237.30" y1="577.80" x2="246.50" y2="577.80" stroke="#111" stroke-width="1.5" stroke-linecap="butt"/>
<text transform="translate(223.20 587.20) scale(1.012 1)" font-size="24.8" text-anchor="end" stroke="#111" stroke-width="0.3" fill="#111">16</text>
<line x1="237.30" y1="626.60" x2="246.50" y2="626.60" stroke="#111" stroke-width="1.5" stroke-linecap="butt"/>
<text transform="translate(223.20 636.00) scale(1.012 1)" font-size="24.8" text-anchor="end" stroke="#111" stroke-width="0.3" fill="#111">4</text>
<line x1="237.30" y1="675.30" x2="246.50" y2="675.30" stroke="#111" stroke-width="1.5" stroke-linecap="butt"/>
<text transform="translate(223.20 684.70) scale(1.012 1)" font-size="24.8" text-anchor="end" stroke="#111" stroke-width="0.3" fill="#111">1</text>
<line x1="237.30" y1="724.00" x2="246.50" y2="724.00" stroke="#111" stroke-width="1.5" stroke-linecap="butt"/>
<text transform="translate(223.20 733.40) scale(1.012 1)" font-size="24.8" text-anchor="end" stroke="#111" stroke-width="0.3" fill="#111">0.25</text>
<line x1="237.30" y1="772.80" x2="246.50" y2="772.80" stroke="#111" stroke-width="1.5" stroke-linecap="butt"/>
<text transform="translate(223.20 782.20) scale(1.012 1)" font-size="24.8" text-anchor="end" stroke="#111" stroke-width="0.3" fill="#111">0.06</text>
<line x1="237.30" y1="821.50" x2="246.50" y2="821.50" stroke="#111" stroke-width="1.5" stroke-linecap="butt"/>
<text transform="translate(223.20 830.90) scale(1.012 1)" font-size="24.8" text-anchor="end" stroke="#111" stroke-width="0.3" fill="#111">0.02</text>
<line x1="277.30" y1="524.20" x2="277.30" y2="785.50" stroke="#111" stroke-width="1.5" stroke-linecap="butt"/>
<line x1="271.20" y1="524.20" x2="283.40" y2="524.20" stroke="#111" stroke-width="1.5" stroke-linecap="butt"/>
<line x1="271.20" y1="785.50" x2="283.40" y2="785.50" stroke="#111" stroke-width="1.5" stroke-linecap="butt"/>
<rect x="262.2" y="657.3" width="30.2" height="13.9" fill="#fff" stroke="#111" stroke-width="1.5"/>
<line x1="262.20" y1="664.20" x2="292.40" y2="664.20" stroke="#111" stroke-width="1.5" stroke-linecap="butt"/>
<line x1="339.20" y1="612.00" x2="339.20" y2="698.00" stroke="#111" stroke-width="1.5" stroke-linecap="butt"/>
<line x1="333.20" y1="612.00" x2="345.20" y2="612.00" stroke="#111" stroke-width="1.5" stroke-linecap="butt"/>
<line x1="333.20" y1="698.00" x2="345.20" y2="698.00" stroke="#111" stroke-width="1.5" stroke-linecap="butt"/>
<rect x="324.0" y="648.1" width="30.2" height="15.4" fill="#fff" stroke="#111" stroke-width="1.5"/>
<line x1="324.00" y1="653.30" x2="354.20" y2="653.30" stroke="#111" stroke-width="1.5" stroke-linecap="butt"/>
<text transform="translate(340.30 607.20) scale(1.033 1)" font-size="21" text-anchor="middle" stroke="#111" stroke-width="0.3" fill="#111">***</text>
<text transform="translate(131.20 629.60) rotate(-90) scale(1.015 1)" font-size="24.8" text-anchor="middle" stroke="#111" stroke-width="0.3" fill="#111"><tspan font-style="italic">clr4&#916;</tspan> / wild type</text>
<text transform="translate(169.20 631.00) rotate(-90) scale(1.033 1)" font-size="24.8" text-anchor="middle" stroke="#111" stroke-width="0.3" fill="#111">FLAG-Caf1 ChIP</text>
<text transform="translate(288.40 846.00) rotate(-52) scale(1.045 1)" font-size="24.8" text-anchor="end" stroke="#111" stroke-width="0.3" fill="#111">euchromatin</text>
<text transform="translate(349.60 846.00) rotate(-52) scale(1.045 1)" font-size="24.8" text-anchor="end" stroke="#111" stroke-width="0.3" fill="#111">heterochromatin</text>
</g>
<g id="panelD">
<text transform="translate(602.60 453.00) scale(0.99 1)" font-size="40.5" font-weight="bold" fill="#000">D</text>
<text transform="translate(697.60 473.80) scale(1.033 1)" font-size="24.8" stroke="#111" stroke-width="0.3" fill="#111">Chr1</text>
<text transform="translate(768.00 473.80) scale(1.033 1)" font-size="24.8" stroke="#111" stroke-width="0.3" fill="#111">0 kb</text>
<text transform="translate(918.50 473.80) scale(1.033 1)" font-size="24.8" stroke="#111" stroke-width="0.3" fill="#111">5 kb</text>
<text transform="translate(1070.00 473.80) scale(1.033 1)" font-size="24.8" stroke="#111" stroke-width="0.3" fill="#111">10 kb</text>
<line x1="772.50" y1="494.30" x2="1110.30" y2="494.30" stroke="#1f1f1f" stroke-width="1.7" stroke-linecap="round"/>
<line x1="772.50" y1="482.30" x2="772.50" y2="494.30" stroke="#1f1f1f" stroke-width="1.7" stroke-linecap="round"/>
<line x1="939.30" y1="482.30" x2="939.30" y2="494.30" stroke="#1f1f1f" stroke-width="1.7" stroke-linecap="round"/>
<line x1="1105.80" y1="482.30" x2="1105.80" y2="494.30" stroke="#1f1f1f" stroke-width="1.7" stroke-linecap="round"/>
<line x1="712.50" y1="520.00" x2="712.50" y2="648.80" stroke="#ececec" stroke-width="1" stroke-linecap="butt"/>
<line x1="712.50" y1="686.30" x2="712.50" y2="815.00" stroke="#ececec" stroke-width="1" stroke-linecap="butt"/>
<line x1="772.00" y1="540.80" x2="1111.00" y2="540.80" stroke="#d2d2d2" stroke-width="1.1" stroke-linecap="butt"/>
<line x1="772.00" y1="548.80" x2="1111.00" y2="548.80" stroke="#d2d2d2" stroke-width="1.1" stroke-linecap="butt"/>
<line x1="772.00" y1="622.10" x2="1111.00" y2="622.10" stroke="#d2d2d2" stroke-width="1.1" stroke-linecap="butt"/>
<line x1="772.00" y1="630.00" x2="1111.00" y2="630.00" stroke="#d2d2d2" stroke-width="1.1" stroke-linecap="butt"/>
<line x1="772.00" y1="703.30" x2="1111.00" y2="703.30" stroke="#d2d2d2" stroke-width="1.1" stroke-linecap="butt"/>
<line x1="772.00" y1="711.30" x2="1111.00" y2="711.30" stroke="#d2d2d2" stroke-width="1.1" stroke-linecap="butt"/>
<line x1="772.00" y1="784.60" x2="1111.00" y2="784.60" stroke="#d2d2d2" stroke-width="1.1" stroke-linecap="butt"/>
<line x1="772.00" y1="792.70" x2="1111.00" y2="792.70" stroke="#d2d2d2" stroke-width="1.1" stroke-linecap="butt"/>
<g fill="#42474d"><rect x="831.68" y="630.40" width="2.20" height="10.80"/><rect x="884.94" y="630.40" width="2.00" height="3.00"/><rect x="916.58" y="630.40" width="2.00" height="3.00"/><rect x="951.13" y="630.40" width="2.20" height="6.00"/><rect x="1024.50" y="630.40" width="2.00" height="2.50"/><rect x="1102.38" y="630.40" width="1.50" height="1.50"/></g>
<g fill="#f7941d"><rect x="1027.59" y="617.70" width="2.00" height="4.00"/><rect x="1040.98" y="619.20" width="2.50" height="2.50"/></g>
<g fill="#42474d"><rect x="774.09" y="711.70" width="1.50" height="2.00"/><rect x="781.61" y="711.70" width="2.50" height="22.20"/><rect x="813.22" y="711.70" width="2.00" height="9.00"/><rect x="820.43" y="711.70" width="2.20" height="6.00"/><rect x="828.83" y="711.70" width="2.00" height="5.00"/><rect x="844.64" y="711.70" width="3.00" height="12.00"/><rect x="845.48" y="711.70" width="1.60" height="29.50"/><rect x="852.88" y="711.70" width="2.00" height="5.00"/><rect x="903.12" y="711.70" width="2.20" height="12.00"/><rect x="908.88" y="711.70" width="2.20" height="16.00"/><rect x="931.77" y="711.70" width="2.00" height="5.00"/><rect x="938.70" y="711.70" width="2.20" height="18.00"/></g>
<g fill="#f7941d"><rect x="1027.59" y="696.60" width="2.00" height="6.30"/></g>
<g fill="#42474d"><rect x="772.42" y="793.10" width="2.60" height="22.50"/><rect x="778.16" y="793.10" width="1.80" height="4.00"/><rect x="779.57" y="793.10" width="1.80" height="6.70"/><rect x="788.51" y="793.10" width="2.20" height="11.00"/><rect x="799.61" y="793.10" width="2.50" height="1.20"/><rect x="809.00" y="793.10" width="2.00" height="5.00"/><rect x="812.42" y="793.10" width="2.20" height="12.00"/><rect x="834.31" y="793.10" width="2.00" height="5.60"/><rect x="835.44" y="793.10" width="2.00" height="5.60"/><rect x="836.52" y="793.10" width="1.80" height="19.00"/><rect x="844.54" y="793.10" width="1.80" height="4.00"/><rect x="849.78" y="793.10" width="2.00" height="6.60"/><rect x="854.62" y="793.10" width="1.60" height="14.00"/><rect x="856.79" y="793.10" width="1.20" height="9.00"/><rect x="858.62" y="793.10" width="1.20" height="9.00"/><rect x="860.49" y="793.10" width="1.40" height="7.50"/><rect x="877.30" y="793.10" width="1.80" height="5.00"/><rect x="886.16" y="793.10" width="1.80" height="3.00"/><rect x="891.27" y="793.10" width="2.00" height="4.00"/><rect x="892.39" y="793.10" width="2.00" height="6.00"/><rect x="898.90" y="793.10" width="2.20" height="14.00"/><rect x="904.52" y="793.10" width="2.20" height="9.00"/><rect x="910.95" y="793.10" width="2.00" height="5.00"/><rect x="913.67" y="793.10" width="2.20" height="9.00"/><rect x="918.97" y="793.10" width="2.00" height="5.00"/><rect x="920.27" y="793.10" width="2.20" height="14.50"/><rect x="922.06" y="793.10" width="2.00" height="5.00"/><rect x="925.92" y="793.10" width="1.60" height="3.00"/><rect x="932.30" y="793.10" width="1.50" height="1.50"/><rect x="935.11" y="793.10" width="1.50" height="1.50"/><rect x="939.08" y="793.10" width="2.00" height="2.00"/><rect x="945.41" y="793.10" width="2.40" height="3.00"/><rect x="980.77" y="793.10" width="2.00" height="4.00"/></g>
<g fill="#f7941d"><rect x="854.88" y="774.80" width="2.50" height="9.40"/><rect x="919.99" y="780.20" width="2.20" height="4.00"/><rect x="921.82" y="778.20" width="2.20" height="6.00"/><rect x="1027.49" y="780.70" width="2.20" height="3.50"/><rect x="1040.62" y="777.20" width="3.50" height="7.00"/><rect x="1057.85" y="778.20" width="2.80" height="6.00"/><rect x="1068.56" y="781.20" width="2.20" height="3.00"/></g>
<rect x="771.80" y="502.00" width="339.20" height="324.20" fill="none" stroke="#1f1f1f" stroke-width="1.9" stroke-linejoin="round"/>
<text transform="translate(758.00 550.50) scale(1.033 1)" font-size="24.8" text-anchor="end" stroke="#111" stroke-width="0.3" fill="#111">sol</text>
<text transform="translate(760.30 632.50) scale(1.033 1)" font-size="24.8" text-anchor="end" stroke="#111" stroke-width="0.3" fill="#111">chr</text>
<text transform="translate(758.00 717.50) scale(1.033 1)" font-size="24.8" text-anchor="end" stroke="#111" stroke-width="0.3" fill="#111">sol</text>
<text transform="translate(760.30 796.30) scale(1.033 1)" font-size="24.8" text-anchor="end" stroke="#111" stroke-width="0.3" fill="#111">chr</text>
<text transform="translate(703.50 593.80) scale(1.033 1)" font-size="24.8" text-anchor="end" stroke="#111" stroke-width="0.3" fill="#111">wild type</text>
<text transform="translate(703.70 760.80) scale(1.033 1)" font-size="24.8" font-style="italic" text-anchor="end" stroke="#111" stroke-width="0.3" fill="#111">clr4&#916;</text>
<line x1="1119.00" y1="504.50" x2="1119.00" y2="826.00" stroke="#efefef" stroke-width="1" stroke-linecap="butt"/>
<text transform="translate(1128.70 516.10) scale(1.04 1)" font-size="17.7" stroke="#111" stroke-width="0.3" fill="#111">200</text>
<line x1="1119.00" y1="510.00" x2="1122.50" y2="510.00" stroke="#efefef" stroke-width="1" stroke-linecap="butt"/>
<text transform="translate(1128.70 549.20) scale(1.04 1)" font-size="17.7" stroke="#111" stroke-width="0.3" fill="#111">0</text>
<line x1="1119.00" y1="543.10" x2="1122.50" y2="543.10" stroke="#efefef" stroke-width="1" stroke-linecap="butt"/>
<text transform="translate(1128.70 591.80) scale(1.04 1)" font-size="17.7" stroke="#111" stroke-width="0.3" fill="#111">200</text>
<line x1="1119.00" y1="585.70" x2="1122.50" y2="585.70" stroke="#efefef" stroke-width="1" stroke-linecap="butt"/>
<text transform="translate(1128.70 631.70) scale(1.04 1)" font-size="17.7" stroke="#111" stroke-width="0.3" fill="#111">0</text>
<line x1="1119.00" y1="625.60" x2="1122.50" y2="625.60" stroke="#efefef" stroke-width="1" stroke-linecap="butt"/>
<text transform="translate(1128.70 672.30) scale(1.04 1)" font-size="17.7" stroke="#111" stroke-width="0.3" fill="#111">200</text>
<line x1="1119.00" y1="666.20" x2="1122.50" y2="666.20" stroke="#efefef" stroke-width="1" stroke-linecap="butt"/>
<text transform="translate(1128.70 712.20) scale(1.04 1)" font-size="17.7" stroke="#111" stroke-width="0.3" fill="#111">0</text>
<line x1="1119.00" y1="706.10" x2="1122.50" y2="706.10" stroke="#efefef" stroke-width="1" stroke-linecap="butt"/>
<text transform="translate(1128.70 752.80) scale(1.04 1)" font-size="17.7" stroke="#111" stroke-width="0.3" fill="#111">200</text>
<line x1="1119.00" y1="746.70" x2="1122.50" y2="746.70" stroke="#efefef" stroke-width="1" stroke-linecap="butt"/>
<text transform="translate(1128.70 792.20) scale(1.04 1)" font-size="17.7" stroke="#111" stroke-width="0.3" fill="#111">0</text>
<line x1="1119.00" y1="786.10" x2="1122.50" y2="786.10" stroke="#efefef" stroke-width="1" stroke-linecap="butt"/>
<text transform="translate(1128.70 833.50) scale(1.04 1)" font-size="17.7" stroke="#111" stroke-width="0.3" fill="#111">200</text>
<line x1="1119.00" y1="827.40" x2="1122.50" y2="827.40" stroke="#efefef" stroke-width="1" stroke-linecap="butt"/>
<text transform="translate(1217.30 649.00) rotate(-90) scale(1.033 1)" font-size="24.8" text-anchor="middle" stroke="#111" stroke-width="0.3" fill="#111">Caf1 RNA IP</text>
<rect x="775.80" y="834.50" width="187.20" height="12.50" fill="#42474d"/>
<text transform="translate(831.30 845.30) scale(1.05 1)" font-size="13" text-anchor="middle" fill="#e4e7ea">&lt;</text>
<text transform="translate(905.80 845.30) scale(1.05 1)" font-size="13" text-anchor="middle" fill="#e4e7ea">&lt;</text>
<rect x="965.80" y="834.50" width="19.70" height="12.50" fill="#42474d"/>
<rect x="1028.00" y="834.50" width="56.00" height="12.50" fill="#42474d"/>
<text transform="translate(1055.80 845.30) scale(1.05 1)" font-size="13" text-anchor="middle" fill="#e4e7ea">&gt;</text>
<text transform="translate(858.60 873.00) scale(1.033 1)" font-size="24.8" font-style="italic" text-anchor="middle" stroke="#111" stroke-width="0.3" fill="#111">tlh1</text>
<text transform="translate(1040.30 873.00) scale(1.033 1)" font-size="24.8" font-style="italic" text-anchor="middle" stroke="#111" stroke-width="0.3" fill="#111">SPAC212.09c</text>
</g>
</svg>
</body>
</html>
